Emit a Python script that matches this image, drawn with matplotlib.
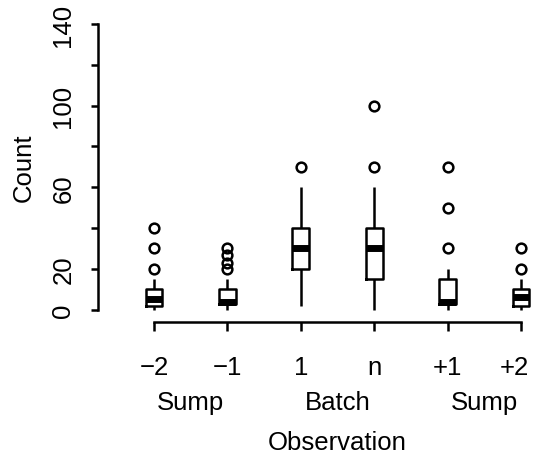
import matplotlib.pyplot as plt
from matplotlib.transforms import blended_transform_factory, ScaledTranslation

plt.rcParams.update({'font.family': ['Liberation Sans', 'DejaVu Sans'], 'font.size': 18.5})

# box statistics
labels = ['\u22122', '\u22121', '1', 'n', '+1', '+2']
whislo = [0, 0, 2, 0, 0, 0]
q1 = [2, 3, 20, 15, 3, 2]
med = [5, 4, 30, 30, 4, 6]
q3 = [10, 10, 40, 40, 15, 10]
whishi = [15, 15, 60, 60, 20, 15]
fliers = [[20, 30, 40], [20, 23, 27, 30], [70], [70, 100], [30, 50, 70], [20, 30]]
groups = ['Sump', 'Batch', 'Sump']
group_pos = [1.5, 3.5, 5.5]

W, H, dpi = 533, 456, 100
fig = plt.figure(figsize=(W / dpi, H / dpi), dpi=dpi)
# axes box in pixels: left 98, right 533, top 20, bottom 323
ax = fig.add_axes([98 / W, 1 - 323 / H, (533 - 98) / W, (323 - 20) / H])

stats = []
for i in range(len(labels)):
    stats.append(dict(whislo=whislo[i], q1=q1[i], med=med[i], q3=q3[i],
                      whishi=whishi[i], fliers=fliers[i]))

lw = 1.8
ax.bxp(stats, positions=range(1, 7), widths=0.23, showcaps=False,
       boxprops=dict(color='black', lw=lw),
       whiskerprops=dict(color='black', lw=lw, solid_capstyle='butt'),
       medianprops=dict(color='black', lw=5, solid_capstyle='butt'),
       flierprops=dict(marker='o', markerfacecolor='none', markeredgecolor='black',
                       markersize=7, markeredgewidth=1.8))

ax.set_xlim(0.237, 6.163)
ax.set_ylim(-6.03, 142.5)

for s in ['top', 'right']:
    ax.spines[s].set_visible(False)
ax.spines['left'].set_bounds(0, 140)
ax.spines['bottom'].set_bounds(1, 6)
for s in ['left', 'bottom']:
    ax.spines[s].set_linewidth(lw)

ax.set_yticks(range(0, 141, 20))
ax.set_yticklabels(['0', '20', '', '60', '', '100', '', '140'],
                   rotation=90, ha='center', va='center')
ax.tick_params(axis='y', length=5, width=lw, pad=20)
ax.set_xticks(range(1, 7))
xt = ax.set_xticklabels(labels, va='center')
ax.tick_params(axis='x', length=6.5, width=lw, pad=26)
# last label sits against the right edge, as in the original
xt[-1].set_horizontalalignment('right')
xt[-1].set_transform(xt[-1].get_transform() + ScaledTranslation(0.08, 0, fig.dpi_scale_trans))

tr = blended_transform_factory(ax.transData, fig.transFigure)
for g, p in zip(groups, group_pos):
    ax.text(p, 1 - 403 / H, g, transform=tr, ha='center', va='center')
ax.text(3.5, 1 - 443 / H, 'Observation', transform=tr, ha='center', va='center')
fig.text(24 / W, 1 - 168 / H, 'Count', rotation=90, ha='center', va='center')

fig.savefig('out.png', dpi=dpi)
